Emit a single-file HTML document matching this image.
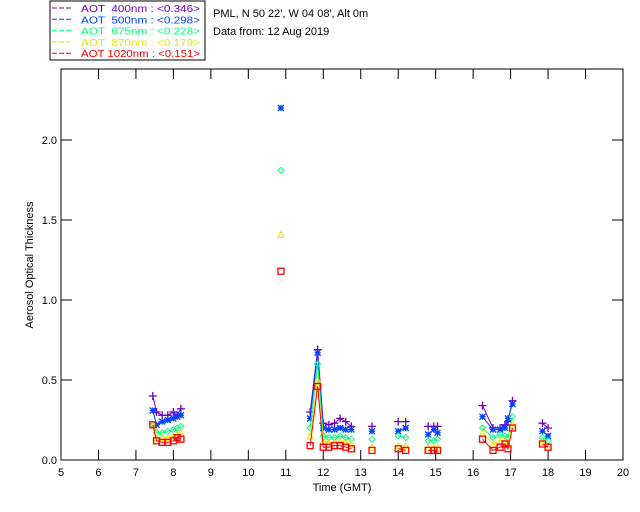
<!DOCTYPE html>
<html><head><meta charset="utf-8"><style>
body{margin:0;background:#fff}
svg{display:block;font-family:"Liberation Sans",sans-serif}
.pre{white-space:pre}
</style></head><body>
<svg id="chart" width="640" height="512">
<rect x="50" y="1" width="155" height="59" fill="#fff" stroke="#000"/>
<g id="legend"></g>
<text x="213" y="17" font-size="11">PML, N 50 22', W 04 08', Alt 0m</text>
<text x="213" y="35" font-size="11">Data from: 12 Aug 2019</text>
<g id="axes"></g>
<g id="series"></g>
<text x="342" y="491" font-size="11" text-anchor="middle">Time (GMT)</text>
<text transform="translate(33,265) rotate(-90)" font-size="11" text-anchor="middle">Aerosol Optical Thickness</text>
</svg>
<script>
const times = [7.45,7.55,7.7,7.85,8.0,8.1,8.2, 10.87, 11.65,11.85,12.0,12.15,12.3,12.45,12.6,12.75, 13.3, 14.0,14.2, 14.8,14.95,15.05, 16.25, 16.53,16.72,16.85,16.93,17.05, 17.85,18.0];
const aot400 = [0.40,0.30,0.28,0.28,0.30,0.28,0.32, null, 0.30,0.69,0.23,0.22,0.23,0.26,0.24,0.21, 0.21, 0.24,0.24, 0.21,0.21,0.21, 0.34, 0.20,0.20,0.22,0.24,0.37, 0.23,0.20];
const aot500 = [0.31,0.22,0.24,0.25,0.26,0.27,0.28, 2.20, 0.26,0.67,0.20,0.19,0.19,0.20,0.19,0.19, 0.18, 0.18,0.20, 0.16,0.19,0.17, 0.27, 0.19,0.19,0.20,0.26,0.35, 0.18,0.15];
const aot675 = [0.22,0.17,0.17,0.18,0.19,0.20,0.21, 1.81, 0.20,0.60,0.15,0.14,0.14,0.15,0.14,0.13, 0.13, 0.15,0.14, 0.12,0.12,0.13, 0.20, 0.14,0.16,0.15,0.14,0.27, 0.14,0.12];
const aot870 = [0.22,0.14,0.14,0.14,0.15,0.16,0.17, 1.41, 0.15,0.50,0.12,0.11,0.11,0.12,0.11,0.10, 0.08, 0.09,0.09, 0.08,0.08,0.08, 0.17, 0.10,0.12,0.12,0.10,0.22, 0.11,0.08];
const aot1020 = [0.22,0.12,0.11,0.11,0.12,0.14,0.13, 1.18, 0.09,0.46,0.08,0.08,0.09,0.09,0.08,0.07, 0.06, 0.07,0.06, 0.06,0.06,0.06, 0.13, 0.06,0.08,0.10,0.07,0.20, 0.10,0.08];
const xTicks = [5,6,7,8,9,10,11,12,13,14,15,16,17,18,19,20];
const yTicks = [0.0,0.5,1.0,1.5,2.0];
const legendLabels = ["AOT  400nm : <0.346>","AOT  500nm : <0.298>","AOT  675nm : <0.228>","AOT  870nm : <0.179>","AOT 1020nm : <0.151>"];

const NS="http://www.w3.org/2000/svg";
const L=61,R=623,T=69,B=460;
const xs=t=>L+(t-5)*(R-L)/15;
const ys=v=>B-v*160;
function mk(tag,attrs,parent){const e=document.createElementNS(NS,tag);for(const k in attrs)e.setAttribute(k,attrs[k]);parent.appendChild(e);return e;}
const axes=document.getElementById('axes');
const frame=mk('rect',{x:L,y:T,width:R-L,height:B-T,fill:'none',stroke:'#000'},axes);


xTicks.forEach(t=>{
  const x=xs(t);
  mk('line',{x1:x,y1:B,x2:x,y2:B-10,stroke:'#000'},axes);
  mk('line',{x1:x,y1:T,x2:x,y2:T+10,stroke:'#000'},axes);
  const tx=mk('text',{x:x,y:B+16,'font-size':11,'text-anchor':'middle'},axes);
  tx.textContent=t;
  
  
});
yTicks.forEach(v=>{
  const y=ys(v);
  mk('line',{x1:L,y1:y,x2:L+11,y2:y,stroke:'#000'},axes);
  mk('line',{x1:R,y1:y,x2:R-11,y2:y,stroke:'#000'},axes);
  const tx=mk('text',{x:L-4,y:y+4,'font-size':11,'text-anchor':'end'},axes);
  tx.textContent=v.toFixed(1);
  
  
});
const colors=['#7000c0','#0040ff','#00ff80','#e8e800','#ff0000'];
const allSeries=[aot400,aot500,aot675,aot870,aot1020];
const names=['aot-400','aot-500','aot-675','aot-870','aot-1020'];
const sg=document.getElementById('series');
function marker(i,x,y,g){
  const c=colors[i];let e;
  if(i===0){e=mk('path',{d:`M${x-4},${y}H${x+4}M${x},${y-4}V${y+4}`,stroke:c,'stroke-width':1.3,fill:'none'},g);}
  else if(i===1){e=mk('path',{d:`M${x-3},${y}H${x+3}M${x},${y-3}V${y+3}M${x-3},${y-3}L${x+3},${y+3}M${x+3},${y-3}L${x-3},${y+3}`,stroke:c,'stroke-width':1.3,fill:'none'},g);}
  else if(i===2){e=mk('path',{d:`M${x},${y-3}L${x+3},${y}L${x},${y+3}L${x-3},${y}Z`,stroke:c,fill:'none'},g);}
  else if(i===3){e=mk('path',{d:`M${x},${y-3}L${x+3},${y+3}L${x-3},${y+3}Z`,stroke:c,fill:'none'},g);}
  else {e=mk('rect',{x:x-3,y:y-3,width:6,height:6,stroke:c,fill:'none','stroke-width':1.3},g);}
  
  
}
allSeries.forEach((vals,i)=>{
  const g=mk('g',{},sg);
  
  
  let d='',prev=null;
  times.forEach((t,j)=>{
    const v=vals[j];
    if(v==null){prev=null;return;}
    const x=xs(t),y=ys(v);
    d+=(prev!==null&&t-prev<0.5?'L':'M')+x+','+y;
    prev=t;
  });
  const p=mk('path',{d:d,stroke:colors[i],fill:'none','stroke-width':1},g);
  
  
  times.forEach((t,j)=>{if(vals[j]!=null)marker(i,xs(t),ys(vals[j]),g);});
});
const lg=document.getElementById('legend');
legendLabels.forEach((s,i)=>{
  const y=12+i*11.3;
  const ln=mk('line',{x1:52,y1:y-4,x2:73,y2:y-4,stroke:colors[i],'stroke-dasharray':'5,2'},lg);
  
  
  const tx=mk('text',{x:81,y:y,'font-size':10.5,fill:colors[i],'class':'pre',textLength:119,lengthAdjust:'spacingAndGlyphs'},lg);
  tx.textContent=s;
  
  
});
</script>
</body></html>
